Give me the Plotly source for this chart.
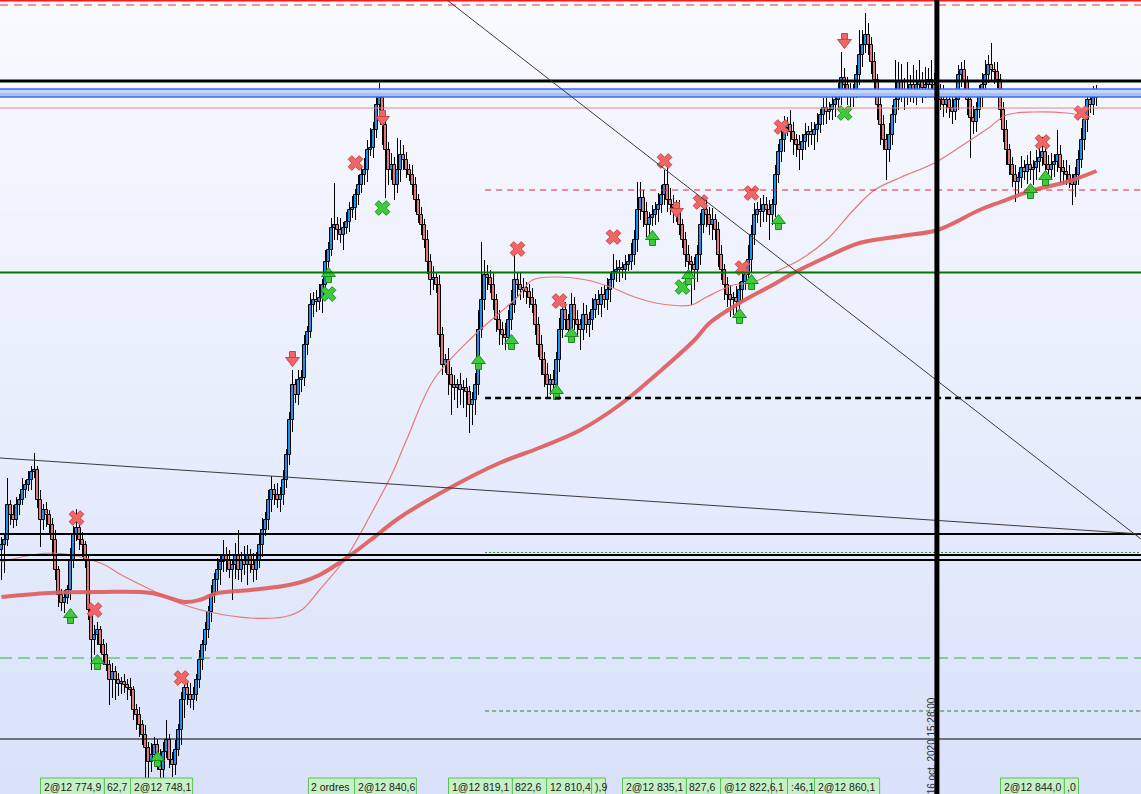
import plotly.graph_objects as go

# ---------------- data (prices) ----------------
first_open = 12845.0
closes = [
    12845.5, 12846.0, 12849.5, 12848.5, 12848.0, 12849.5, 12850.0, 12851.0, 12851.5, 12852.0,
    12852.8, 12853.0, 12850.0, 12848.0, 12849.0, 12848.5, 12847.5, 12846.0, 12843.0, 12840.5,
    12839.7, 12840.2, 12841.0, 12844.0, 12846.5, 12847.2, 12846.0, 12845.5, 12844.0, 12839.0,
    12836.0, 12836.5, 12837.0, 12835.5, 12834.5, 12833.5, 12832.0, 12832.8, 12832.0, 12831.6,
    12831.8, 12831.5, 12831.2, 12831.0, 12829.0, 12828.5, 12827.5, 12826.5, 12825.2, 12823.8,
    12824.5, 12825.5, 12824.2, 12823.0, 12824.8, 12826.0, 12824.0, 12823.5, 12825.0, 12827.0,
    12830.0, 12831.2, 12830.5, 12830.0, 12830.5, 12832.0, 12834.0, 12835.5, 12837.0, 12838.8,
    12840.5, 12842.0, 12843.0, 12843.8, 12844.5, 12844.0, 12843.0, 12843.5, 12844.5, 12843.0,
    12844.0, 12843.5, 12844.5, 12843.5, 12843.0, 12844.0, 12845.5, 12847.0, 12848.0, 12850.0,
    12851.0, 12850.5, 12850.0, 12850.5, 12852.0, 12854.5, 12858.0, 12861.5, 12860.5, 12862.0,
    12862.2, 12865.5, 12866.8, 12869.5, 12870.0, 12869.8, 12870.2, 12871.5, 12873.8, 12875.0,
    12877.2, 12877.5, 12877.0, 12876.5, 12877.2, 12877.8, 12879.0, 12879.2, 12880.5, 12881.5,
    12882.5, 12883.0, 12885.0, 12885.2, 12887.0, 12889.5, 12890.2, 12887.5, 12885.0, 12883.0,
    12883.5, 12881.5, 12883.0, 12884.5, 12884.0, 12883.0, 12882.5, 12881.5, 12880.0, 12878.5,
    12877.5, 12876.0, 12873.8, 12872.0, 12872.2, 12871.5, 12866.5, 12863.5, 12864.0, 12862.5,
    12861.5, 12861.2, 12861.5, 12861.0, 12861.2, 12860.8, 12859.5, 12860.0, 12861.5, 12867.0,
    12870.0, 12872.5, 12872.2, 12871.5, 12870.0, 12868.0, 12867.0, 12866.5, 12866.2, 12868.0,
    12869.5, 12872.0, 12871.5, 12871.0, 12871.2, 12870.8, 12870.2, 12869.5, 12867.5, 12865.5,
    12864.0, 12862.5, 12861.5, 12862.0, 12861.5, 12864.0, 12867.0, 12869.0, 12868.0, 12867.0,
    12869.5, 12868.0, 12867.5, 12867.0, 12868.5, 12867.5, 12868.0, 12869.0, 12870.0, 12869.5,
    12870.5, 12870.0, 12871.0, 12872.0, 12872.8, 12873.0, 12873.2, 12873.0, 12873.5, 12873.8,
    12874.5, 12876.0, 12879.0, 12880.2, 12878.8, 12877.5, 12878.2, 12878.5, 12879.0, 12879.5,
    12880.5, 12881.5, 12880.0, 12879.5, 12879.2, 12879.0, 12877.5, 12876.0, 12874.5, 12873.8,
    12873.5, 12873.0, 12874.5, 12877.5, 12879.0, 12878.5, 12877.5, 12878.0, 12877.0, 12874.5,
    12873.0, 12871.5, 12870.5, 12870.0, 12870.2, 12869.8, 12871.0, 12871.8, 12872.5, 12874.0,
    12876.5, 12878.5, 12879.0, 12878.8, 12879.5, 12879.0, 12878.5, 12879.5, 12882.5, 12884.8,
    12886.0, 12887.2, 12887.5, 12886.8, 12886.0, 12885.5, 12885.0, 12885.8, 12886.5, 12886.8,
    12886.5, 12887.0, 12887.5, 12888.5, 12889.2, 12888.8, 12889.0, 12889.5, 12890.0, 12890.5,
    12892.2, 12891.5, 12890.3, 12890.5, 12891.0, 12892.5, 12894.5, 12895.5, 12896.5, 12895.5,
    12893.8, 12892.0, 12889.5, 12887.5, 12886.0, 12885.0, 12886.5, 12888.5, 12890.0, 12891.8,
    12891.0, 12890.5, 12891.0, 12891.5, 12890.5, 12891.5, 12891.8, 12891.2, 12891.5, 12892.0,
    12891.5, 12891.0, 12890.8, 12890.0, 12889.5, 12890.0, 12889.2, 12888.8, 12890.0, 12892.5,
    12893.0, 12891.8, 12890.0, 12888.2, 12887.8, 12889.0, 12890.5, 12891.5, 12892.5, 12893.5,
    12893.0, 12892.8, 12892.0, 12889.0, 12887.0, 12885.0, 12883.5, 12882.5, 12881.8, 12882.2,
    12883.2, 12882.8, 12883.5, 12883.0, 12883.2, 12883.8, 12884.2, 12884.8, 12883.5, 12883.0,
    12883.5, 12883.8, 12884.5, 12883.2, 12882.8, 12882.5, 12882.0, 12881.5, 12882.5, 12884.0,
    12886.0, 12888.0, 12890.0, 12889.5, 12890.2, 12890.5,
]
# wick lengths beyond the body, in tenths of a point
upper_wick_tenths = [
    8, 6, 27, 5, 10, 8, 6, 12, 5, 9,
    6, 17, 4, 10, 6, 8, 5, 7, 10, 4,
    6, 8, 5, 12, 9, 19, 6, 8, 4, 5,
    6, 10, 8, 4, 6, 12, 5, 9, 6, 7,
    5, 8, 6, 10, 4, 6, 8, 5, 10, 6,
    12, 8, 6, 9, 10, 20, 6, 8, 10, 6,
    8, 10, 6, 12, 8, 6, 10, 5, 8, 6,
    10, 7, 12, 6, 15, 8, 10, 6, 12, 25,
    8, 14, 10, 6, 12, 8, 10, 12, 8, 10,
    14, 6, 12, 8, 10, 6, 8, 15, 6, 10,
    8, 10, 6, 12, 8, 10, 14, 6, 12, 8,
    10, 42, 8, 12, 6, 10, 8, 12, 6, 10,
    8, 12, 10, 20, 8, 10, 15, 6, 10, 8,
    12, 8, 32, 15, 10, 8, 6, 10, 8, 6,
    8, 6, 10, 8, 12, 6, 10, 8, 6, 12,
    8, 10, 6, 12, 8, 10, 6, 8, 12, 20,
    58, 15, 10, 8, 12, 6, 10, 8, 12, 10,
    15, 30, 8, 12, 10, 6, 8, 10, 6, 8,
    10, 8, 12, 6, 10, 8, 12, 10, 8, 6,
    12, 8, 10, 6, 12, 10, 8, 12, 6, 10,
    8, 10, 12, 8, 18, 10, 8, 6, 10, 8,
    12, 10, 28, 16, 8, 10, 6, 10, 8, 12,
    10, 15, 28, 12, 10, 8, 10, 6, 8, 10,
    6, 8, 10, 12, 15, 10, 8, 12, 6, 8,
    10, 6, 8, 10, 6, 12, 8, 10, 6, 15,
    10, 12, 8, 12, 10, 8, 10, 6, 10, 8,
    10, 12, 8, 15, 10, 6, 10, 8, 12, 6,
    10, 8, 12, 6, 10, 12, 8, 10, 6, 12,
    26, 10, 8, 12, 6, 10, 25, 15, 22, 12,
    8, 10, 6, 8, 10, 6, 12, 10, 40, 20,
    18, 12, 28, 10, 20, 15, 22, 10, 18, 12,
    20, 12, 10, 8, 15, 10, 8, 12, 10, 10,
    8, 10, 6, 8, 12, 8, 10, 12, 15, 10,
    22, 8, 10, 6, 8, 10, 6, 8, 10, 6,
    12, 8, 10, 14, 8, 12, 10, 15, 10, 10,
    12, 8, 25, 10, 8, 12, 10, 6, 8, 10,
    12, 8, 10, 6, 12, 10,
]
lower_wick_tenths = [
    30, 28, 6, 10, 8, 6, 10, 5, 8, 6,
    10, 6, 8, 27, 10, 12, 8, 15, 10, 12,
    8, 10, 6, 10, 8, 6, 10, 12, 8, 10,
    30, 15, 10, 8, 10, 6, 25, 18, 20, 12,
    10, 8, 12, 6, 10, 15, 12, 10, 30, 18,
    10, 8, 12, 8, 10, 6, 8, 12, 10, 6,
    15, 18, 10, 8, 10, 6, 8, 10, 6, 8,
    10, 8, 12, 15, 10, 12, 8, 30, 14, 10,
    12, 10, 20, 8, 12, 10, 8, 12, 6, 10,
    12, 10, 8, 12, 10, 8, 10, 12, 8, 10,
    12, 8, 10, 6, 12, 10, 8, 15, 10, 8,
    6, 12, 10, 8, 15, 6, 10, 8, 12, 10,
    8, 10, 12, 6, 10, 8, 10, 20, 48, 15,
    10, 15, 8, 12, 10, 8, 6, 10, 12, 8,
    10, 8, 12, 15, 10, 8, 12, 10, 8, 20,
    30, 12, 20, 15, 18, 25, 28, 20, 15, 10,
    8, 10, 12, 8, 10, 12, 15, 10, 12, 8,
    10, 8, 12, 10, 8, 12, 10, 8, 10, 12,
    15, 12, 13, 10, 8, 10, 12, 8, 10, 12,
    8, 10, 12, 20, 10, 8, 12, 10, 8, 10,
    12, 8, 10, 12, 8, 10, 12, 8, 10, 6,
    8, 10, 12, 10, 15, 12, 10, 8, 10, 12,
    8, 10, 12, 10, 15, 12, 10, 8, 12, 15,
    40, 20, 12, 10, 8, 12, 10, 15, 10, 12,
    10, 15, 12, 17, 15, 12, 10, 12, 8, 10,
    12, 10, 8, 15, 10, 12, 25, 10, 12, 8,
    10, 12, 8, 10, 15, 12, 20, 10, 8, 12,
    10, 15, 12, 8, 10, 12, 8, 10, 12, 8,
    10, 12, 8, 10, 12, 8, 10, 12, 8, 10,
    12, 10, 15, 20, 10, 30, 12, 10, 8, 10,
    12, 15, 10, 12, 8, 10, 12, 15, 10, 8,
    12, 10, 15, 10, 12, 8, 10, 12, 8, 10,
    12, 10, 15, 40, 12, 10, 8, 12, 10, 8,
    10, 12, 8, 10, 12, 15, 10, 12, 20, 12,
    10, 8, 12, 10, 15, 12, 10, 8, 12, 10,
    8, 12, 10, 15, 12, 10, 8, 20, 12, 10,
    8, 10, 12, 8, 10, 8,
]

# moving averages (sampled at candle indices)
ma_fast_idx = [0, 17, 33, 40, 50, 61, 71, 83, 94, 100, 106, 115, 123, 130, 135, 144, 157, 166,
               172, 177, 185, 195, 203, 211, 220, 230, 235, 244, 250, 257, 266, 275, 284, 291,
               300, 311, 322, 329, 335, 344, 355, 363]
ma_fast = [12843.8, 12844.7, 12843.7, 12842.5, 12841.0, 12839.5, 12838.7, 12838.2, 12838.3,
           12839.0, 12841.0, 12844.3, 12848.5, 12852.5, 12856.0, 12862.0, 12866.3, 12868.7,
           12870.3, 12872.0, 12872.3, 12872.0, 12871.3, 12870.3, 12869.6, 12869.5, 12870.3,
           12871.5, 12871.7, 12872.7, 12874.0, 12876.0, 12879.0, 12881.0, 12882.3, 12883.7,
           12885.8, 12887.2, 12888.5, 12888.8, 12888.7, 12888.3]
ma_slow_idx = [0, 16, 33, 50, 61, 66, 72, 83, 94, 100, 106, 115, 123, 133, 150, 166, 180, 193,
               206, 220, 231, 236, 246, 257, 264, 275, 286, 300, 312, 326, 333, 344, 355, 365]
ma_slow = [12840.3, 12840.7, 12840.8, 12840.7, 12839.8, 12840.0, 12840.7, 12841.0, 12841.4,
           12841.8, 12842.5, 12844.2, 12846.0, 12848.3, 12851.3, 12853.7, 12855.3, 12857.0,
           12859.5, 12863.0, 12866.0, 12867.7, 12869.7, 12871.5, 12872.7, 12874.3, 12875.7,
           12876.4, 12877.0, 12879.0, 12879.8, 12881.0, 12881.8, 12882.9]

# trade signals
sell_exit_idx = [25, 31, 60, 118, 172, 186, 204, 221, 233, 247, 250, 260, 347, 360]
sell_exit_price = [12848.2, 12839.0, 12832.2, 12883.7, 12875.1, 12869.9, 12876.3, 12883.9,
                   12879.8, 12873.2, 12880.7, 12887.3, 12885.8, 12888.7]
buy_exit_idx = [109, 127, 227, 281]
buy_exit_price = [12870.6, 12879.2, 12871.3, 12888.7]
buy_idx = [23, 32, 52, 109, 159, 170, 185, 190, 217, 229, 246, 250, 259, 343, 348]
buy_price = [12838.3, 12833.7, 12824.0, 12872.4, 12863.7, 12865.7, 12860.7, 12866.4, 12876.1,
             12872.2, 12868.3, 12871.7, 12877.7, 12880.8, 12882.1]
sell_idx = [97, 127, 225, 281]
sell_price = [12864.2, 12888.3, 12879.1, 12896.0]

# horizontal levels (price)
level_top_red = 12899.95
level_top_red_dash = 12899.5
level_resistance = 12891.9
band_high, band_low = 12891.1, 12890.3
level_salmon = 12889.2
level_red_dash = 12881.0
level_green = 12872.75
level_black_dash = 12860.2
level_black_a = 12846.6
level_green_dot = 12844.75
level_black_b = 12844.5
level_black_c = 12844.0
level_green_dash = 12834.2
level_green_dash2 = 12828.9
level_black_thin = 12826.1
partial_start_idx = 161.2

# trendlines: (idx0, price0, idx1, price1)
trendlines = [(148.5, 12900.0, 379.8, 12846.1), (-0.5, 12854.2, 379.8, 12846.6)]

now_idx = 311.8
now_label = "16 oct. 2020 15:28:00"

# order labels: (text, start candle, end candle)
order_labels = [
    ("2@12 774,9", 13.0, 34.3), ("62,7", 34.3, 43.0), ("2@12 748,1", 43.0, 63.7),
    ("2 ordres", 102.3, 117.7), ("2@12 840,6", 117.7, 138.3),
    ("1@12 819,1", 149.0, 170.3), ("822,6", 170.3, 181.7), ("12 810,4", 181.7, 196.7),
    ("),9", 196.7, 201.3), ("2@12 835,1", 207.0, 228.3), ("827,6", 228.3, 239.7),
    ("@12 822,6", 239.7, 256.7), (",1", 256.7, 262.0), (":46,1", 262.0, 271.0),
    ("2@12 860,1", 271.0, 292.7), ("2@12 844,0", 333.0, 354.3), (",0", 354.3, 359.0),
]

# ---------------- derived OHLC ----------------
opens = [first_open] + closes[:-1]
n = min(len(closes), len(upper_wick_tenths), len(lower_wick_tenths))
idx = list(range(n))
body_top = [max(opens[i], closes[i]) for i in idx]
body_bot = [min(opens[i], closes[i]) for i in idx]
highs = [body_top[i] + upper_wick_tenths[i] / 10 for i in idx]
lows = [body_bot[i] - lower_wick_tenths[i] / 10 for i in idx]

X_MIN, X_MAX = -0.5, 1141 / 3 - 0.5
Y_MIN, Y_MAX = 12900 - 79.4, 12900.0

UP = "#1E90F0"
DOWN = "#E47878"

fig = go.Figure()

# bodies
fig.add_trace(go.Bar(
    x=idx, y=[closes[i] - opens[i] for i in idx], base=[opens[i] for i in idx],
    width=0.9,
    marker=dict(color=[UP if closes[i] >= opens[i] else DOWN for i in idx],
                line=dict(color="black", width=1)),
    hoverinfo="skip"))

# wicks (outside the bodies only)
wx, wy = [], []
for i in idx:
    wx += [i, i, None, i, i, None]
    wy += [lows[i], body_bot[i], None, body_top[i], highs[i], None]
fig.add_trace(go.Scatter(x=wx, y=wy, mode="lines", line=dict(color="black", width=1),
                         hoverinfo="skip"))

# moving averages
fig.add_trace(go.Scatter(x=ma_fast_idx, y=ma_fast, mode="lines",
                         line=dict(color="#E87878", width=1.2, shape="spline", smoothing=1.0)))
fig.add_trace(go.Scatter(x=ma_slow_idx, y=ma_slow, mode="lines",
                         line=dict(color="rgba(222,92,92,0.92)", width=4, shape="spline",
                                   smoothing=1.0)))

# signal markers
GREEN, GREEN_D = "#3DCB3D", "#1C8C1C"
RED, RED_D = "#F06666", "#C84545"
fig.add_trace(go.Scatter(x=sell_exit_idx, y=sell_exit_price, mode="markers",
                         marker=dict(symbol="x", size=13, color=RED, line=dict(color=RED_D, width=1))))
fig.add_trace(go.Scatter(x=buy_exit_idx, y=buy_exit_price, mode="markers",
                         marker=dict(symbol="x", size=13, color=GREEN, line=dict(color=GREEN_D, width=1))))
# up arrows: shaft + head
fig.add_trace(go.Scatter(x=buy_idx, y=[p - 0.35 for p in buy_price], mode="markers",
                         marker=dict(symbol="square", size=6, color=GREEN, line=dict(color=GREEN_D, width=1))))
fig.add_trace(go.Scatter(x=buy_idx, y=[p + 0.25 for p in buy_price], mode="markers",
                         marker=dict(symbol="triangle-up", size=12, color=GREEN, line=dict(color=GREEN_D, width=1))))
# down arrows
fig.add_trace(go.Scatter(x=sell_idx, y=[p + 0.35 for p in sell_price], mode="markers",
                         marker=dict(symbol="square", size=6, color=RED, line=dict(color=RED_D, width=1))))
fig.add_trace(go.Scatter(x=sell_idx, y=[p - 0.25 for p in sell_price], mode="markers",
                         marker=dict(symbol="triangle-down", size=12, color=RED, line=dict(color=RED_D, width=1))))

# ---------------- shapes ----------------
shapes = []
nb = 60
top_c, bot_c = (249, 250, 255), (217, 226, 250)
for k in range(nb):
    t = k / (nb - 1)
    c = tuple(round(top_c[j] + (bot_c[j] - top_c[j]) * t) for j in range(3))
    shapes.append(dict(type="rect", xref="paper", yref="paper", x0=0, x1=1,
                       y0=1 - (k + 1) / nb - 0.002, y1=1 - k / nb,
                       fillcolor="rgb(%d,%d,%d)" % c, line=dict(width=0), layer="below"))


def hline(p, color, width, dash="solid", start=None):
    if start is None:
        return dict(type="line", xref="paper", yref="y", x0=0, x1=1, y0=p, y1=p,
                    line=dict(color=color, width=width, dash=dash), layer="above")
    return dict(type="line", xref="x", yref="y", x0=start, x1=X_MAX + 1, y0=p, y1=p,
                line=dict(color=color, width=width, dash=dash), layer="above")


# blue band
shapes.append(dict(type="rect", xref="paper", yref="y", x0=0, x1=1, y0=band_low, y1=band_high,
                   fillcolor="#A9C0F5", line=dict(width=0), layer="above"))
shapes.append(dict(type="rect", xref="paper", yref="y", x0=0, x1=1,
                   y0=(band_low + band_high) / 2, y1=band_high,
                   fillcolor="#C4D4FA", line=dict(width=0), layer="above"))
shapes.append(hline(band_high, "#3C6CEB", 1.5))
shapes.append(hline(band_low, "#3C6CEB", 1.5))

shapes += [
    hline(level_top_red, "#FF1A1A", 2),
    hline(level_top_red_dash, "#F03030", 1, "8px,6px"),
    hline(level_resistance, "black", 3),
    hline(level_salmon, "#F28080", 1),
    hline(level_red_dash, "#EE2020", 1, "6px,5px", partial_start_idx),
    hline(level_green, "#007A00", 2),
    hline(level_black_dash, "black", 2.5, "6px,4px", partial_start_idx),
    hline(level_black_a, "black", 2),
    hline(level_green_dot, "#3A8A3A", 1, "2px,2px", partial_start_idx),
    hline(level_black_b, "black", 2),
    hline(level_black_c, "black", 2),
    hline(level_green_dash, "#2DB52D", 1, "12px,6px"),
    hline(level_green_dash2, "#2E7E2E", 1, "4px,3px", partial_start_idx),
    hline(level_black_thin, "black", 1),
]

for (a0, p0, a1, p1) in trendlines:
    shapes.append(dict(type="line", xref="x", yref="y", x0=a0, y0=p0, x1=a1, y1=p1,
                       line=dict(color="#3A3A3A", width=1), layer="above"))

shapes.append(dict(type="line", xref="x", yref="paper", x0=now_idx, x1=now_idx, y0=0, y1=1,
                   line=dict(color="black", width=5), layer="above"))

annotations = []
lab_top = 16 / 794
for (txt, s, e) in order_labels:
    shapes.append(dict(type="rect", xref="x", yref="paper", x0=s, x1=e, y0=-0.02, y1=lab_top,
                       fillcolor="#C6F1C6", line=dict(color="#5CBF5C", width=1), layer="above"))
    annotations.append(dict(x=s + 0.35, y=7.5 / 794, xref="x", yref="paper", text=txt,
                            showarrow=False, xanchor="left", yanchor="middle",
                            font=dict(family="Liberation Sans, Arial, sans-serif", size=10.5,
                                      color="#1A1A1A")))

annotations.append(dict(x=now_idx - 1.85, y=48 / 794, xref="x", yref="paper", text=now_label,
                        showarrow=False, textangle=-90, xanchor="center", yanchor="middle",
                        font=dict(family="Liberation Sans, Arial, sans-serif", size=10,
                                  color="#2A2A2A")))

fig.update_layout(
    width=1141, height=794,
    margin=dict(l=0, r=0, t=0, b=0),
    paper_bgcolor="#E8EDFC",
    plot_bgcolor="rgba(0,0,0,0)",
    showlegend=False,
    bargap=0,
    xaxis=dict(range=[X_MIN, X_MAX], visible=False, showgrid=False, zeroline=False),
    yaxis=dict(range=[Y_MIN, Y_MAX], visible=False, showgrid=False, zeroline=False),
    shapes=shapes,
    annotations=annotations,
)

fig.write_html("out.html", config={"displayModeBar": False},
               post_script="document.body.style.margin='0';document.body.style.overflow='hidden';")
